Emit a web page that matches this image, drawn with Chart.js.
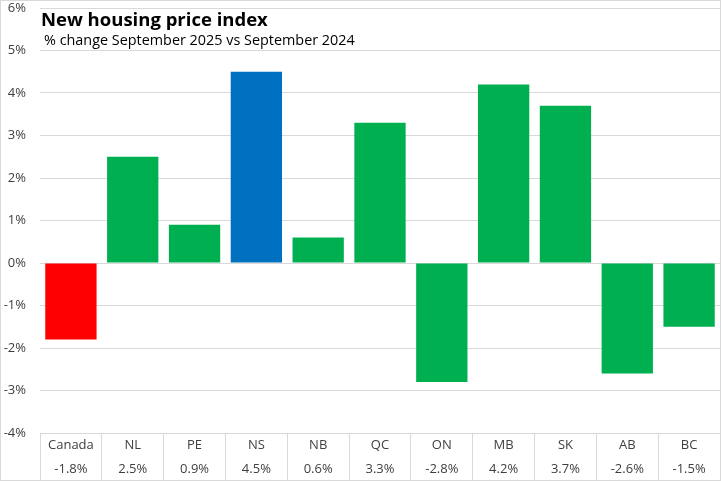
<!DOCTYPE html>
<html><head><meta charset="utf-8">
<script src="https://cdn.jsdelivr.net/npm/chart.js@4"></script>
<style>html,body{margin:0;padding:0;background:#fff}#wrap{width:721px;height:481px}</style>
</head><body><div id="wrap"><canvas id="c"></canvas></div>
<script>
const categories = ['Canada','NL','PE','NS','NB','QC','ON','MB','SK','AB','BC'];
const values = [-1.8, 2.5, 0.9, 4.5, 0.6, 3.3, -2.8, 4.2, 3.7, -2.6, -1.5];
const valueLabels = ['-1.8%','2.5%','0.9%','4.5%','0.6%','3.3%','-2.8%','4.2%','3.7%','-2.6%','-1.5%'];
const barColors = ['#FF0000','#00B050','#00B050','#0070C0','#00B050','#00B050','#00B050','#00B050','#00B050','#00B050','#00B050'];
const titleText = 'New housing price index';
const subtitleText = '% change September 2025 vs September 2024';
const yMin = -4, yMax = 6, yStep = 1;

const FONT = "'Open Sans', sans-serif";
const gridColor = '#d9d9d9';

const decor = {
  id: 'decor',
  afterDraw(chart) {
    const ctx = chart.ctx;
    ctx.save();
    ctx.strokeStyle = gridColor;
    ctx.lineWidth = 1;
    ctx.strokeRect(0.5, 0.5, 720, 480);
    ctx.fillStyle = '#000';
    ctx.textBaseline = 'alphabetic';
    ctx.textAlign = 'left';
    ctx.font = "bold 18.5px " + FONT;
    ctx.fillText(titleText, 41, 26);
    ctx.font = "14.4px " + FONT;
    ctx.fillText(subtitleText, 44, 45);
    ctx.restore();
  }
};

new Chart(document.getElementById('c'), {
  type: 'bar',
  data: {
    labels: categories.map((c, i) => [c, valueLabels[i]]),
    datasets: [{ data: values, backgroundColor: barColors, categoryPercentage: 1, barPercentage: 0.83 }]
  },
  options: {
    responsive: true, maintainAspectRatio: false, animation: false,
    layout: { padding: { top: 8, right: 1, bottom: 0, left: 0 } },
    plugins: { legend: { display: false }, tooltip: { enabled: false }, title: { display: false } },
    scales: {
      x: {
        afterFit(s) { s.height = 48; s.paddingLeft = 0; s.paddingRight = 0; },
        grid: { offset: true, drawOnChartArea: false, drawTicks: true, tickLength: 48, color: gridColor },
        border: { display: true, color: gridColor },
        ticks: { color: '#404040', font: { family: FONT, size: 13, lineHeight: 1.85 }, padding: -48, maxRotation: 0, autoSkip: false }
      },
      y: {
        min: yMin, max: yMax,
        afterFit(s) { s.width = 40; s.paddingTop = 0; s.paddingBottom = 0; },
        grid: { color: gridColor, drawTicks: false },
        border: { display: false },
        ticks: { stepSize: yStep, color: '#404040', font: { family: FONT, size: 13 }, padding: 14, callback: v => v + '%' }
      }
    }
  },
  plugins: [decor]
});
</script></body></html>
